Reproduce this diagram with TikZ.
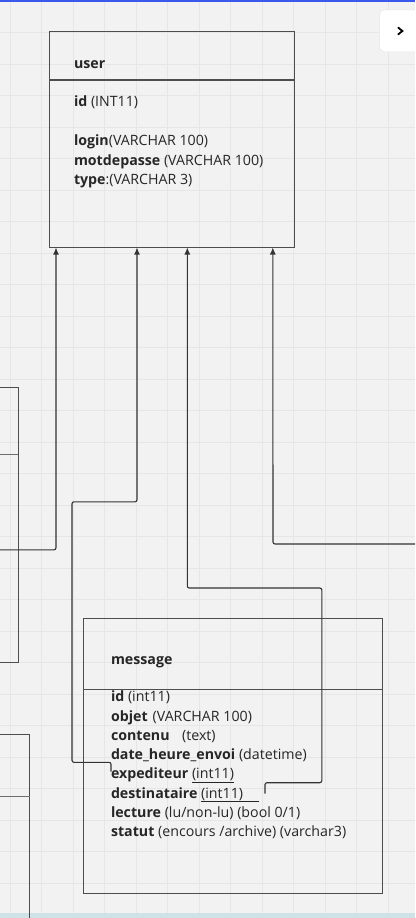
\documentclass[tikz,border=0pt]{standalone}
\usepackage{fontspec}
\setmainfont{Open Sans}
\usetikzlibrary{arrows.meta}
\definecolor{bgc}{HTML}{F2F2F2}
\definecolor{gridc}{HTML}{E6E6E6}
\definecolor{boxc}{HTML}{4D4D4D}
\definecolor{linkc}{HTML}{333333}
\definecolor{txtc}{HTML}{262626}
\definecolor{topc}{HTML}{3A58EE}
\definecolor{botc}{HTML}{CFE2E6}
\definecolor{sepc}{HTML}{6E6E6E}
\begin{document}
\begin{tikzpicture}[x=1pt,y=-1pt,
  table/.style={draw=boxc, line width=1.1pt, rectangle, inner sep=0pt, outer sep=0pt, anchor=north west},
  sidebox/.style={draw=boxc, line width=1.1pt, rectangle, inner sep=0pt, outer sep=0pt, anchor=north east},
  txt/.style={anchor=base west, inner sep=0pt, outer sep=0pt, text=txtc, font=\fontsize{14.2}{17}\selectfont},
  link/.style={draw=linkc, line width=1.1pt, rounded corners=2pt},
  tip/.style={-{Latex[length=7pt,width=6pt]}}]
\useasboundingbox (0,0) rectangle (415,918);
\clip (0,0) rectangle (415,918);
\fill[bgc] (0,0) rectangle (415,918);
\foreach \i in {0,...,12} \draw[gridc, line width=1pt] ({10+31.5*\i},0) -- ({10+31.5*\i},918);
\foreach \j in {0,...,29} \draw[gridc, line width=1pt] (0,{1.3+31.5*\j}) -- (415,{1.3+31.5*\j});
\fill[topc] (0,0) rectangle (415,2.2);
\fill[botc] (0,912.8) rectangle (415,918);

% side boxes (partly visible)
\node[sidebox, minimum width=120pt, minimum height=275pt] (boxa) at (18.3,387.3) {};
\draw[sepc, line width=1.1pt] (boxa.west |- 0,454.3) -- (boxa.east |- 0,454.3);
\node[sidebox, minimum width=120pt, minimum height=250pt] (boxb) at (29.5,734.7) {};
\draw[sepc, line width=1.1pt] (boxb.west |- 0,796.3) -- (boxb.east |- 0,796.3);

% user table
\node[table, minimum width=245pt, minimum height=216pt] (user) at (49.5,31.5) {};
\draw[boxc, line width=1.1pt] (user.west |- 0,80) -- (user.east |- 0,80);
\node[txt] (utitle) at (74,68.3) {\textbf{user}};
\node[txt] (uid) at (74,106.7) {\textbf{id} (INT11)};
\node[txt] (ulogin) at (74,145.7) {\textbf{login}(VARCHAR 100)};
\node[txt] (umdp) at (74,165) {\textbf{motdepasse} (VARCHAR 100)};
\node[txt] (utype) at (74,184.3) {\textbf{type}:(VARCHAR 3)};

% message table
\node[table, minimum width=299pt, minimum height=275pt] (msg) at (83.3,618.3) {};
\draw[boxc, line width=1.1pt] (msg.west |- 0,689.3) -- (msg.east |- 0,689.3);
\node[txt] (mtitle) at (111,664) {\textbf{message}};
\node[txt] (mid) at (111,701.7) {\textbf{id} (int11)};
\node[txt] (mobj) at (111,721) {\textbf{objet}\hspace{5pt}(VARCHAR 100)};
\node[txt] (mcont) at (111,740.2) {\textbf{contenu}\hspace{12.5pt}(text)};
\node[txt] (mdate) at (111,759.5) {\textbf{date\_heure\_envoi} (datetime)};
\node[txt] (mexp) at (111,778.7) {\textbf{expediteur} \underline{(int11)}};
\node[txt] (mdest) at (111,798) {\textbf{destinataire} \underline{(int11)\hspace{16pt}}};
\node[txt] (mlect) at (111,817.2) {\textbf{lecture} (lu/non-lu) (bool 0/1)};
\node[txt] (mstat) at (111,836.5) {\textbf{statut} (encours /archive) (varchar3)};

% connector ends
\coordinate (lefta) at (-2,549.8);
\coordinate (expend) at (111,771.5);
\coordinate (destend) at (265,793.5);
\coordinate (rightend) at (418,544);

\draw[link,tip] (lefta) -- (56,549.8) -- ([xshift=6.5pt]user.south west);
\draw[link,tip] (expend) -- (111,762.3) -- (72,762.3) -- (72,501.8) -- (137,501.8) -- ([xshift=87.5pt]user.south west);
\draw[link,tip] (destend) -- (265,782.7) -- (321.8,782.7) -- (321.8,588) -- (187.3,588) -- ([xshift=137.8pt]user.south west);
\draw[link,tip] (rightend) -- (273,544) -- ([xshift=223.3pt]user.south west);

% side panel button
\node[fill=white, draw=gridc, line width=0.5pt, rounded corners=5pt, minimum width=46pt, minimum height=42pt, anchor=north west, inner sep=0pt] (btn) at (379,9.5) {};
\draw[black, line width=1.8pt, line cap=round] (398.2,27.6) -- (402.4,31) -- (398.2,34.4);
\end{tikzpicture}
\end{document}
